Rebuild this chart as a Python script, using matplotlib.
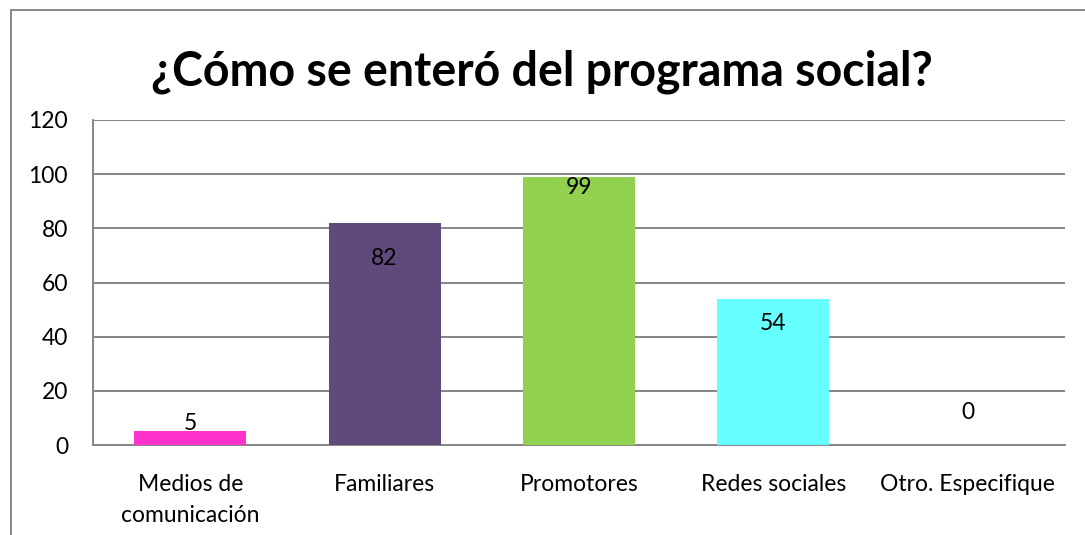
import matplotlib
matplotlib.use("Agg")
import matplotlib.pyplot as plt
from matplotlib.lines import Line2D

# Chart data
categories = ["Medios de\ncomunicación", "Familiares", "Promotores", "Redes sociales", "Otro. Especifique"]
values = [5, 82, 99, 54, 0]
bar_colors = ["#FF33CC", "#604A7B", "#92D050", "#66FFFF", "#FFFFFF"]
yticks = [0, 20, 40, 60, 80, 100, 120]
title = "¿Cómo se enteró del programa social?"

# label offsets from bar top (data units), excel-ish placement
label_offsets = [3, -13, -4, -9, 12]

W, H = 1085, 535
fig = plt.figure(figsize=(W / 100, H / 100), dpi=100)
plt.rcParams["font.family"] = ["Lato", "DejaVu Sans"]

ax = fig.add_axes([93 / W, 1 - 445 / H, (1065 - 93) / W, (445 - 120) / H])

x = range(len(categories))
ax.bar(x, values, width=0.576, color=bar_colors, zorder=3)

for i, v in enumerate(values):
    ax.text(i, v + label_offsets[i], str(v), ha="center", va="center", fontsize=16.5, color="black", zorder=4)

ax.set_xlim(-0.5, len(categories) - 0.5)
ax.set_ylim(0, 120)
ax.set_yticks(yticks)
ax.set_xticks(list(x))
ax.set_xticklabels(categories, fontsize=16.5, linespacing=1.6)
ax.tick_params(axis="y", labelsize=16.5, length=0, pad=18)
ax.tick_params(axis="x", length=0, pad=21)
ax.grid(axis="y", color="#868686", linewidth=1.4, zorder=0)

for side in ["top", "right"]:
    ax.spines[side].set_visible(False)
for side in ["left", "bottom"]:
    ax.spines[side].set_color("#868686")
    ax.spines[side].set_linewidth(1.4)

fig.text(542 / W, 1 - 72 / H, title, ha="center", va="center", fontsize=33.5, fontweight="bold")

# outer chart frame (cropped at right/bottom)
fig.add_artist(Line2D([11 / W, 1], [1 - 10 / H, 1 - 10 / H], color="#888888", linewidth=1.4))
fig.add_artist(Line2D([11 / W, 11 / W], [0, 1 - 10 / H], color="#888888", linewidth=1.4))

fig.savefig("out.png", dpi=100)
plt.close(fig)
